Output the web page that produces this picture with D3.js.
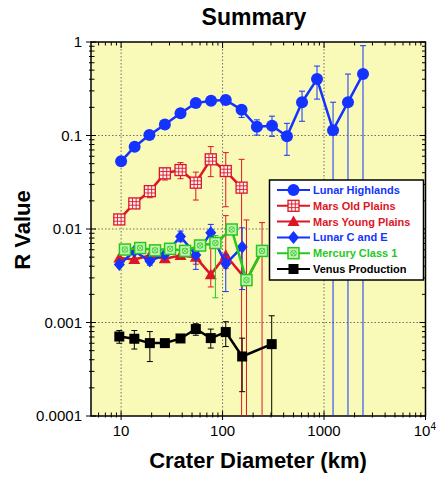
<!DOCTYPE html>
<html>
<head>
<meta charset="utf-8">
<script src="https://cdn.jsdelivr.net/npm/d3@7"></script>
<style>
  body { margin: 0; background: #fff; }
  svg { display: block; font-family: Helvetica, Arial, "Liberation Sans", sans-serif; }
</style>
</head>
<body>
<script>
// Width and height
const w = 437;
const h = 479;

// tick values
const xMajor = [10, 100, 1000, 10000];
const yMajor = [0.0001, 0.001, 0.01, 0.1, 1];
const yTickLabels = ["0.0001", "0.001", "0.01", "0.1", "1"];
const xGrid = [10, 100, 1000];
const yGrid = [0.001, 0.01, 0.1];

// Lunar Highlands
const lhX  = [10, 13.6, 19, 27, 38.5, 54.5, 77, 107.5, 154, 218, 307, 431, 607, 853, 1227, 1722, 2421];
const lhY  = [0.053, 0.076, 0.101, 0.131, 0.173, 0.222, 0.235, 0.24, 0.188, 0.124, 0.127, 0.098, 0.227, 0.401, 0.114, 0.227, 0.454];
const lhLo = [null, null, null, null, null, null, null, null, 0.156, 0.101, 0.098, 0.0614, 0.142, 0.245, 0, 0, 0];
const lhHi = [null, null, null, null, null, null, null, null, 0.2075, 0.147, 0.161, 0.135, 0.298, 0.553, 0.227, 0.454, 0.913];

// Mars Old Plains
const moX  = [9.6, 13.5, 19.2, 27, 38.5, 54.5, 76.5, 107.5, 154];
const moY  = [0.01265, 0.01877, 0.0254, 0.0394, 0.0427, 0.0313, 0.0556, 0.0417, 0.0277];
const moLo = [null, null, 0.0216, 0.0334, 0.0345, 0.0204, 0.0363, 0.0173, 0];
const moHi = [null, null, 0.0284, 0.0446, 0.0513, 0.0406, 0.0761, 0.0656, 0.0556];

// Mars Young Plains
const myX  = [9.6, 13.5, 19.2, 27, 38.5, 54.5, 76.5, 107.5, 172, 245];
const myY  = [0.00489, 0.00471, 0.0052, 0.00481, 0.0052, 0.00498, 0.00325, 0.00523, 0.00284, 0.00583];
const myLo = [null, null, null, null, null, 0.0042, 0.0024, 0.0038, 0, 0];
const myHi = [null, null, null, null, null, 0.0062, 0.0068, 0.0139, 0.0125, 0.0117];

// Lunar C and E
const ceX  = [9.6, 13.5, 19.2, 27, 38.5, 54.5, 76.5, 107.5, 156];
const ceY  = [0.00416, 0.00578, 0.00454, 0.00533, 0.00831, 0.00527, 0.0091, 0.00424, 0.00641];
const ceLo = [null, null, 0.0041, null, 0.0073, 0.0037, 0.0068, 0.00214, 0.00225];
const ceHi = [null, null, 0.0052, null, 0.0095, 0.006, 0.0112, 0.0053, 0.0103];

// Mercury Class 1
const meX  = [10.9, 15.4, 21.6, 30.4, 42.7, 60, 85, 123, 172, 245];
const meY  = [0.00603, 0.00626, 0.00591, 0.00614, 0.00583, 0.00666, 0.00708, 0.00988, 0.00284, 0.00583];
const meLo = [null, null, null, null, null, null, 0.00184, null, null, null];
const meHi = [null, null, null, null, null, null, 0.0085, null, null, null];

// Venus Production
const veX  = [9.6, 13.5, 19.2, 27, 38.5, 54.5, 76.5, 107.5, 156, 305];
const veY  = [0.000708, 0.00067, 0.000602, 0.000602, 0.000675, 0.000851, 0.000681, 0.00079, 0.000433, 0.000587];
const veLo = [0.0006, 0.00052, 0.000382, null, 0.00063, 0.00073, 0.000533, 0.000553, 0.000182, 0];
const veHi = [0.00082, 0.00082, 0.0008, null, 0.00072, 0.00097, 0.00085, 0.00102, 0.00068, 0.00118];

const blue = "#1433ff", red = "#dc1626", green = "#25c81c";

const series = [
  {name: "Mars Old Plains",    x: moX, y: moY, lo: moLo, hi: moHi, color: red,   marker: "grid"},
  {name: "Mars Young Plains",  x: myX, y: myY, lo: myLo, hi: myHi, color: red,   marker: "triangle"},
  {name: "Lunar C and E",      x: ceX, y: ceY, lo: ceLo, hi: ceHi, color: blue,  marker: "diamond"},
  {name: "Mercury Class 1",    x: meX, y: meY, lo: meLo, hi: meHi, color: green, marker: "mercury"},
  {name: "Venus Production",   x: veX, y: veY, lo: veLo, hi: veHi, color: "#000", marker: "square"},
  {name: "Lunar Highlands",    x: lhX, y: lhY, lo: lhLo, hi: lhHi, color: blue,  marker: "circle"}
];
const legendOrder = ["Lunar Highlands", "Mars Old Plains", "Mars Young Plains", "Lunar C and E", "Mercury Class 1", "Venus Production"];

const pLeft = 91, pRight = 425.5, pTop = 42, pBottom = 416;

const xScale = d3.scaleLog().domain([5.05, 10000]).range([pLeft, pRight]);
const yScale = d3.scaleLog().domain([0.0001, 1]).range([pBottom, pTop]);

const svg = d3.select("body").append("svg")
  .attr("width", w)
  .attr("height", h);

svg.append("defs").append("clipPath").attr("id", "plot")
  .append("rect")
  .attr("x", pLeft).attr("y", pTop)
  .attr("width", pRight - pLeft).attr("height", pBottom - pTop);

// plot background
svg.append("rect")
  .attr("x", pLeft).attr("y", pTop)
  .attr("width", pRight - pLeft).attr("height", pBottom - pTop)
  .attr("fill", "#fafab8");

// dotted grid
svg.append("g").selectAll("line")
  .data(xGrid)
  .join("line")
  .attr("x1", d => xScale(d)).attr("x2", d => xScale(d))
  .attr("y1", pTop).attr("y2", pBottom)
  .attr("stroke", "#6e6e66").attr("stroke-width", 1).attr("stroke-dasharray", "1.5,2");
svg.append("g").selectAll("line")
  .data(yGrid)
  .join("line")
  .attr("y1", d => yScale(d)).attr("y2", d => yScale(d))
  .attr("x1", pLeft).attr("x2", pRight)
  .attr("stroke", "#6e6e66").attr("stroke-width", 1).attr("stroke-dasharray", "1.5,2");

// minor tick values
const xMinor = [];
[1, 10, 100, 1000].forEach(dec => {
  for (let k = 2; k <= 9; k++) {
    const v = dec * k;
    if (v > 5.05 && v < 10000) xMinor.push(v);
  }
});
const yMinor = [];
[0.0001, 0.001, 0.01, 0.1].forEach(dec => {
  for (let k = 2; k <= 9; k++) yMinor.push(dec * k);
});

// axes ticks
const ticks = svg.append("g").attr("stroke", "#000").attr("stroke-width", 1);
// bottom
ticks.append("g").selectAll("line").data(xMajor).join("line")
  .attr("x1", d => xScale(d)).attr("x2", d => xScale(d))
  .attr("y1", pBottom - 5).attr("y2", pBottom + 4);
ticks.append("g").selectAll("line").data(xMinor).join("line")
  .attr("x1", d => xScale(d)).attr("x2", d => xScale(d))
  .attr("y1", pBottom - 3.5).attr("y2", pBottom + 1.5);
// top
ticks.append("g").selectAll("line").data(xMajor).join("line")
  .attr("x1", d => xScale(d)).attr("x2", d => xScale(d))
  .attr("y1", pTop).attr("y2", pTop + 6);
ticks.append("g").selectAll("line").data(xMinor).join("line")
  .attr("x1", d => xScale(d)).attr("x2", d => xScale(d))
  .attr("y1", pTop).attr("y2", pTop + 3.5);
// left
ticks.append("g").selectAll("line").data(yMajor).join("line")
  .attr("y1", d => yScale(d)).attr("y2", d => yScale(d))
  .attr("x1", pLeft - 5).attr("x2", pLeft + 5);
ticks.append("g").selectAll("line").data(yMinor).join("line")
  .attr("y1", d => yScale(d)).attr("y2", d => yScale(d))
  .attr("x1", pLeft - 2).attr("x2", pLeft + 3.5);
// right
ticks.append("g").selectAll("line").data(yMajor).join("line")
  .attr("y1", d => yScale(d)).attr("y2", d => yScale(d))
  .attr("x1", pRight - 6).attr("x2", pRight);
ticks.append("g").selectAll("line").data(yMinor).join("line")
  .attr("y1", d => yScale(d)).attr("y2", d => yScale(d))
  .attr("x1", pRight - 3.5).attr("x2", pRight);

// frame
svg.append("rect")
  .attr("x", pLeft).attr("y", pTop)
  .attr("width", pRight - pLeft).attr("height", pBottom - pTop)
  .attr("fill", "none").attr("stroke", "#000").attr("stroke-width", 1.5);

// tick labels
svg.append("g").selectAll("text")
  .data(yMajor)
  .join("text")
  .attr("x", pLeft - 9)
  .attr("y", d => yScale(d) + 5)
  .attr("text-anchor", "end")
  .attr("font-size", "15px")
  .text((d, i) => yTickLabels[i]);

const xl = svg.append("g").selectAll("text")
  .data(xMajor)
  .join("text")
  .attr("x", d => xScale(d))
  .attr("y", pBottom + 20)
  .attr("text-anchor", d => d === 10000 ? "end" : "middle")
  .attr("dx", d => d === 10000 ? 10.5 : 0)
  .attr("font-size", "15px");
xl.filter(d => d !== 10000).text(d => d);
xl.filter(d => d === 10000).each(function() {
  const t = d3.select(this);
  t.append("tspan").text("10");
  t.append("tspan").attr("dy", -6).attr("font-size", "10px").text("4");
});

// titles
svg.append("text")
  .attr("x", 254).attr("y", 25)
  .attr("text-anchor", "middle")
  .attr("font-size", "23px").attr("font-weight", "bold")
  .text("Summary");
svg.append("text")
  .attr("x", 258).attr("y", 468)
  .attr("text-anchor", "middle")
  .attr("font-size", "22px").attr("font-weight", "bold")
  .text("Crater Diameter (km)");
svg.append("text")
  .attr("transform", "translate(30,230) rotate(-90)")
  .attr("text-anchor", "middle")
  .attr("font-size", "22px").attr("font-weight", "bold")
  .text("R Value");

// marker drawing
function drawMarker(g, type, color) {
  if (type === "circle") {
    g.append("circle").attr("r", 6).attr("fill", color);
  } else if (type === "square") {
    g.append("rect").attr("x", -5).attr("y", -5).attr("width", 10).attr("height", 10).attr("fill", color);
  } else if (type === "triangle") {
    g.append("path").attr("d", "M0,-6L6,4.5L-6,4.5Z").attr("fill", color);
  } else if (type === "diamond") {
    g.append("path").attr("d", "M0,-6.5L5.5,0L0,6.5L-5.5,0Z").attr("fill", color);
  } else if (type === "grid") {
    g.append("rect").attr("x", -5.5).attr("y", -5.5).attr("width", 11).attr("height", 11)
      .attr("fill", "#fff0f0").attr("stroke", color).attr("stroke-width", 1.3);
    g.append("path").attr("d", "M-1.8,-5.5V5.5M1.8,-5.5V5.5M-5.5,-1.8H5.5M-5.5,1.8H5.5")
      .attr("stroke", color).attr("stroke-width", 0.9);
  } else if (type === "mercury") {
    g.append("rect").attr("x", -5.5).attr("y", -5.5).attr("width", 11).attr("height", 11)
      .attr("fill", "#c6f2b4").attr("stroke", color).attr("stroke-width", 1.5);
    g.append("circle").attr("r", 2.8).attr("fill", "none").attr("stroke", color).attr("stroke-width", 0.8);
    g.append("path").attr("d", "M-2.6,-2.6L2.6,2.6M-2.6,2.6L2.6,-2.6")
      .attr("stroke", color).attr("stroke-width", 0.7);
  }
}

const line = d3.line().x(d => xScale(d.x)).y(d => yScale(d.y));

const plot = svg.append("g").attr("clip-path", "url(#plot)");

series.forEach(s => {
  const pts = s.x.map((xv, i) => ({x: xv, y: s.y[i], lo: s.lo[i], hi: s.hi[i]}));
  const g = plot.append("g");

  // error bars
  const eb = g.append("g").attr("stroke", s.color).attr("stroke-width", 1);
  pts.filter(d => d.hi !== null).forEach(d => {
    const px = xScale(d.x);
    const yHi = yScale(d.hi);
    const yLo = d.lo > 0 ? yScale(d.lo) : pBottom + 2;
    eb.append("line").attr("x1", px).attr("x2", px).attr("y1", yHi).attr("y2", yLo);
    eb.append("line").attr("x1", px - 3).attr("x2", px + 3).attr("y1", yHi).attr("y2", yHi);
    if (d.lo > 0) eb.append("line").attr("x1", px - 3).attr("x2", px + 3).attr("y1", yLo).attr("y2", yLo);
  });

  g.append("path")
    .datum(pts)
    .attr("d", line)
    .attr("fill", "none")
    .attr("stroke", s.color)
    .attr("stroke-width", 2.5)
    .attr("stroke-linejoin", "round");

  g.selectAll(".m").data(pts).join("g")
    .attr("transform", d => `translate(${xScale(d.x)},${yScale(d.y)})`)
    .each(function() { drawMarker(d3.select(this), s.marker, s.color); });
});

// legend
const lg = svg.append("g");
lg.append("rect")
  .attr("x", 269.5).attr("y", 180)
  .attr("width", 154).attr("height", 100)
  .attr("fill", "#fff").attr("stroke", "#000").attr("stroke-width", 1.5);
legendOrder.forEach((name, i) => {
  const s = series.find(d => d.name === name);
  const yy = 190 + i * 15.8;
  lg.append("line").attr("x1", 277).attr("x2", 310).attr("y1", yy).attr("y2", yy)
    .attr("stroke", s.color).attr("stroke-width", 2);
  const mg = lg.append("g").attr("transform", `translate(293.5,${yy})`);
  drawMarker(mg, s.marker, s.color);
  lg.append("text")
    .attr("x", 313).attr("y", yy + 4)
    .attr("font-size", "11px").attr("font-weight", "bold")
    .attr("fill", s.color)
    .text(name);
});
</script>
</body>
</html>
